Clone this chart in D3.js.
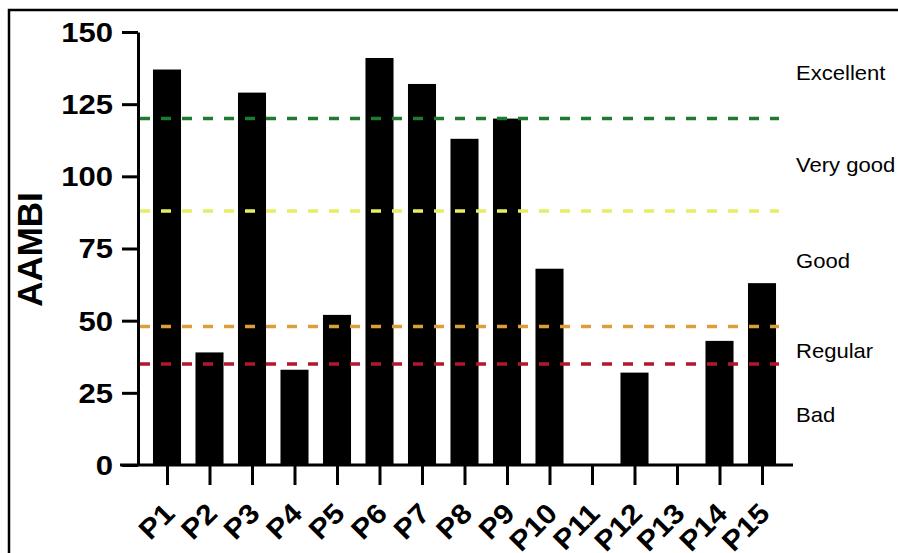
<!DOCTYPE html>
<html>
<head>
<meta charset="utf-8">
<script src="https://cdn.jsdelivr.net/npm/d3@7"></script>
<style>
  html, body { margin: 0; padding: 0; background: #fff; }
  svg { display: block; }
  text { font-family: "Liberation Sans", Arial, Helvetica, sans-serif; fill: #000; }
</style>
</head>
<body>
<svg id="chart" width="898" height="553"></svg>
<script>
// ---- data ----
const categories = ["P1","P2","P3","P4","P5","P6","P7","P8","P9","P10","P11","P12","P13","P14","P15"];
const values = [137, 39, 129, 33, 52, 141, 132, 113, 120, 68, 0, 32, 0, 43, 63];
const yTicks = [0, 25, 50, 75, 100, 125, 150];
const thresholdValues = [120, 88, 48, 35];
const thresholdColors = ["#1f7a30", "#e6ee66", "#d9a03a", "#b3162e"];
const classLabels = ["Excellent", "Very good", "Good", "Regular", "Bad"];
const yTitle = "AAMBI";

// ---- layout ----
const svg = d3.select("#chart");
svg.append("rect").attr("width", 898).attr("height", 553).attr("fill", "#fff");
// outer frame
svg.append("rect").attr("x", 9).attr("y", 10).attr("width", 1000).attr("height", 1000)
  .attr("fill", "none").attr("stroke", "#000").attr("stroke-width", 2.5);

const y = d3.scaleLinear().domain([0, 150]).range([465, 32]);
const x = d3.scalePoint().domain(categories).range([167, 762]);
const axisX = 138;
const barW = x.step() * 0.66;

// bars
svg.append("g").selectAll("rect").data(values).join("rect")
  .attr("x", (d, i) => x(categories[i]) - barW / 2)
  .attr("y", d => y(d))
  .attr("width", barW)
  .attr("height", d => y(0) - y(d))
  .attr("fill", "#000");

// threshold dashed lines (drawn over the bars)
const lineEnd = x.range()[1] + 17;
svg.append("g").selectAll("line").data(thresholdValues).join("line")
  .attr("x1", axisX + 2).attr("x2", lineEnd)
  .attr("y1", d => y(d)).attr("y2", d => y(d))
  .attr("stroke", (d, i) => thresholdColors[i])
  .attr("stroke-width", 3.5)
  .attr("stroke-dasharray", "10 11");

// y axis
const gy = svg.append("g").attr("transform", `translate(${axisX},0)`)
  .call(d3.axisLeft(y).tickValues(yTicks).tickSize(16).tickSizeOuter(0).tickPadding(0));
gy.select(".domain").attr("stroke", "#000").attr("stroke-width", 3);
gy.selectAll(".tick line").attr("stroke", "#000").attr("stroke-width", 3);
gy.selectAll(".tick text")
  .attr("x", 0).attr("dy", "0.35em")
  .attr("transform", "translate(-25,0) scale(1.15,1)")
  .style("font-size", "27px").style("font-weight", "bold").attr("fill", "#000");

// x axis
const gx = svg.append("g").attr("transform", `translate(0,${y(0)})`)
  .call(d3.axisBottom(x).tickSize(20).tickSizeOuter(0));
gx.select(".domain").remove();
gx.append("line").attr("x1", axisX - 18).attr("x2", x.range()[1] + 31)
  .attr("y1", 0).attr("y2", 0).attr("stroke", "#000").attr("stroke-width", 3);
gx.selectAll(".tick line").attr("stroke", "#000").attr("stroke-width", 3);
gx.selectAll(".tick text")
  .attr("x", 0).attr("y", 0).attr("dy", 0)
  .attr("text-anchor", "end")
  .attr("transform", "translate(9,50) rotate(-45) scale(1.08,1)")
  .style("font-size", "28px").style("font-weight", "bold").attr("fill", "#000");

// y title
svg.append("text")
  .attr("transform", `translate(42,${(y(0) + y(150)) / 2 + 1}) rotate(-90)`)
  .attr("text-anchor", "middle")
  .style("font-size", "35px").style("font-weight", "bold")
  .text(yTitle);

// class labels, centred in their bands
const bounds = [150, ...thresholdValues, 0];
const labelOffsets = [-3, 0, -8, 5, 0];
svg.append("g").selectAll("text").data(classLabels).join("text")
  .attr("transform", (d, i) => `translate(796,${y((bounds[i] + bounds[i + 1]) / 2) + labelOffsets[i]}) scale(1.05,1)`)
  .attr("dy", "0.35em")
  .style("font-size", "21px")
  .attr("fill", "#111")
  .text(d => d);
</script>
</body>
</html>
